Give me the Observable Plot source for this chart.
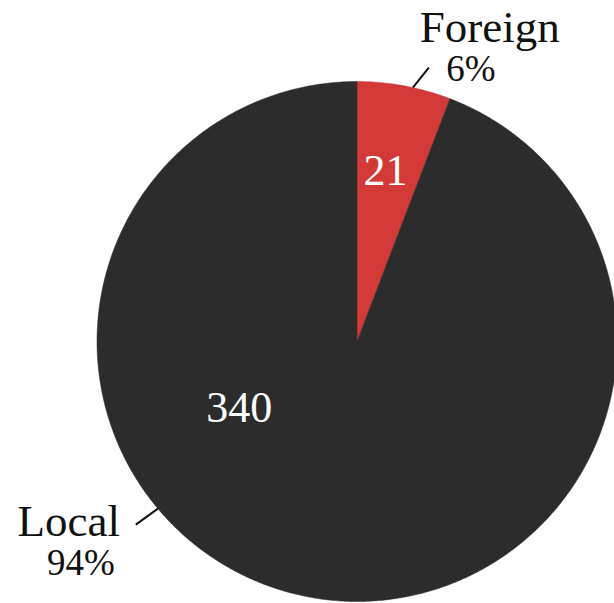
<!DOCTYPE html>
<html><head><meta charset="utf-8">
<script src="https://cdn.jsdelivr.net/npm/d3@7"></script>
<script src="https://cdn.jsdelivr.net/npm/@observablehq/plot@0.6"></script>
<style>body{margin:0;background:#fff;overflow:hidden}</style>
</head><body><div id="chart"></div>
<script>
// data
const categories = ["Foreign", "Local"];
const counts = [21, 340];
const percentLabels = ["6%", "94%"];
const sliceColors = ["#d23937", "#2c2c2c"];

// layout (label placement, not data)
const R = 260;
const layout = {
  Foreign: {inAngle: 9.5, inR: 0.666, leadAngle: 12.4, lead: [16, -20], name: [61, -40], pct: [42, 2]},
  Local:   {inAngle: 240.6, inR: 0.52, leadAngle: 230, lead: [-22, 16], name: [-67, -3], pct: [-55, 39]}
};

const rows = categories.map((c, i) => ({cat: c, value: counts[i], pct: percentLabels[i], color: sliceColors[i]}));
const arcs = d3.pie().sort(null).value(d => d.value)(rows);
const rad = deg => deg * Math.PI / 180;

// slice polygons from pie angles
const slicePts = [];
for (const a of arcs) {
  const n = Math.max(2, Math.ceil((a.endAngle - a.startAngle) / rad(0.5)));
  slicePts.push({cat: a.data.cat, color: a.data.color, x: 0, y: 0});
  for (let k = 0; k <= n; k++) {
    const t = a.startAngle + (a.endAngle - a.startAngle) * k / n;
    slicePts.push({cat: a.data.cat, color: a.data.color, x: Math.sin(t), y: Math.cos(t)});
  }
  slicePts.push({cat: a.data.cat, color: a.data.color, x: 0, y: 0});
}

const inner = arcs.map(a => {
  const L = layout[a.data.cat];
  return {label: String(a.data.value), x: L.inR * Math.sin(rad(L.inAngle)), y: L.inR * Math.cos(rad(L.inAngle))};
});
const leaders = arcs.map(a => {
  const L = layout[a.data.cat];
  const x1 = Math.sin(rad(L.leadAngle)), y1 = Math.cos(rad(L.leadAngle));
  return {cat: a.data.cat, pct: a.data.pct, x1, y1, x2: x1 + L.lead[0] / R, y2: y1 - L.lead[1] / R};
});
const names = leaders.map(l => ({t: l.cat, x: l.x2 + layout[l.cat].name[0] / R, y: l.y2 - layout[l.cat].name[1] / R}));
const pcts = leaders.map(l => ({t: l.pct, x: l.x2 + layout[l.cat].pct[0] / R, y: l.y2 - layout[l.cat].pct[1] / R}));

const font = "Liberation Serif";
const chart = Plot.plot({
  width: 614, height: 603,
  margin: 0,
  style: {fontFamily: font, background: "#fff"},
  x: {domain: [-1, 1], range: [356.5 - R, 356.5 + R], axis: null},
  y: {domain: [-1, 1], range: [341 + R, 341 - R], axis: null},
  marks: [
    Plot.line(slicePts, {x: "x", y: "y", z: "cat", fill: "color", stroke: "color", strokeWidth: 0.5, curve: "linear"}),
    Plot.text(inner, {x: "x", y: "y", text: "label", fill: "#fff", fontSize: 44, fontFamily: font}),
    Plot.link(leaders, {x1: "x1", y1: "y1", x2: "x2", y2: "y2", stroke: "#111", strokeWidth: 2}),
    Plot.text(names, {x: "x", y: "y", text: "t", fill: "#111", fontSize: 45, fontFamily: font}),
    Plot.text(pcts, {x: "x", y: "y", text: "t", fill: "#111", fontSize: 37, fontFamily: font})
  ]
});
document.getElementById("chart").appendChild(chart);
</script>
</body></html>
